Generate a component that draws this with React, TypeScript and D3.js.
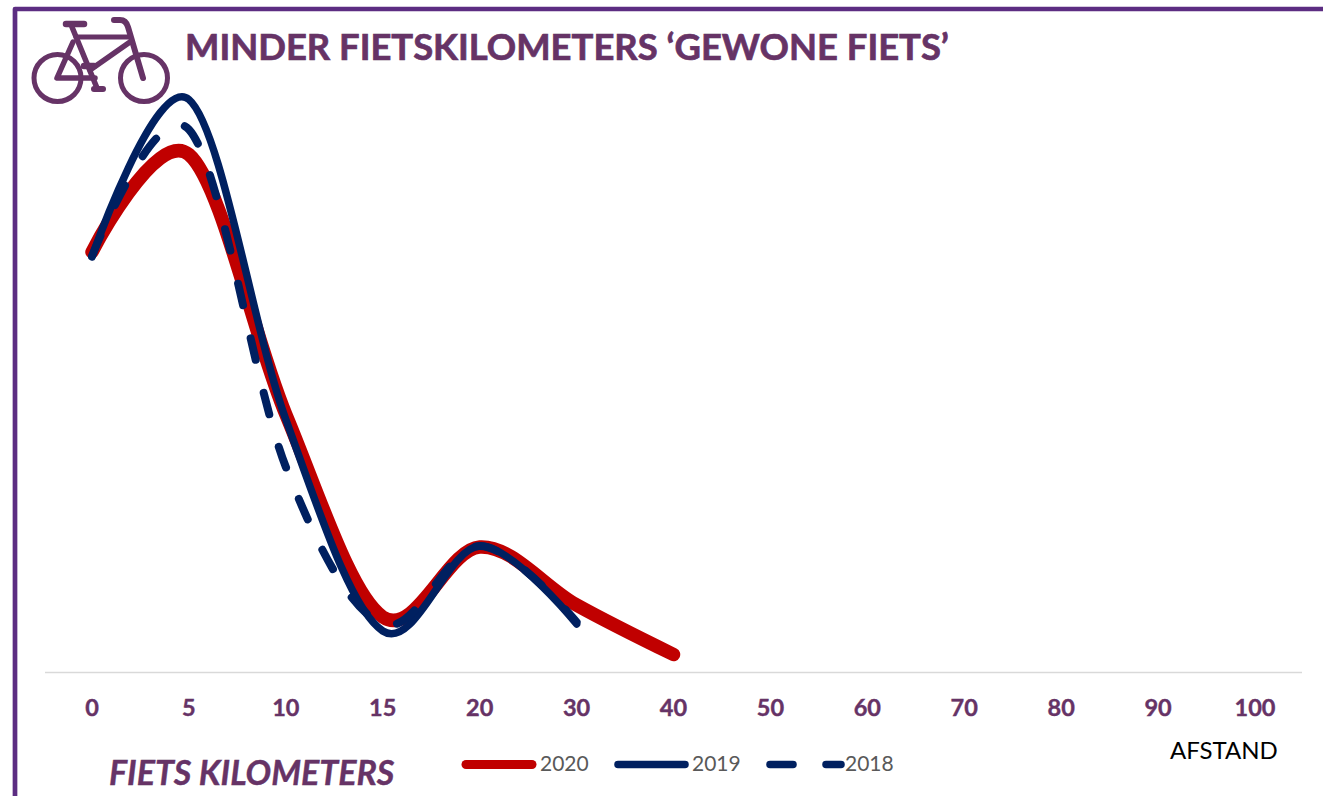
import React from "react";
import * as d3 from "d3";

const categories = ["0","5","10","15","20","30","40","50","60","70","80","90","100"];
const values2020 = [84, 103.5, 51.5, 11, 25, 13.4, 3.5];
const values2019 = [83, 114.5, 50.5, 8.2, 25.2, 9.6];
const values2018 = [83.2, 108.5, 41, 9.6, 25.2, 10];
const legendLabels = ["2020", "2019", "2018"];

const W = 1323, H = 796;
const PURPLE = "#5c2d82";
const TEXT = "#663366";
const RED = "#c00000";
const NAVY = "#002060";
const FONT = "Lato, Carlito, sans-serif";

const x = d3.scalePoint<string>().domain(categories).range([92, 1255]);
const y = d3.scaleLinear().domain([0, 100]).range([672, 172]);
const line = d3.line<number>()
  .x((_, i) => x(categories[i]) as number)
  .y(d => y(d))
  .curve(d3.curveCatmullRom.alpha(0));

function Bike() {
  const s = { fill: "none", stroke: "#663366", strokeLinecap: "round" as const, strokeLinejoin: "round" as const };
  return (
    <g {...s}>
      <circle cx={57.5} cy={78} r={23.5} strokeWidth={5} />
      <circle cx={144} cy={78} r={23.5} strokeWidth={5} />
      <path d="M66 24H84" strokeWidth={6.5} />
      <path d="M72 27L97 88" strokeWidth={5.5} />
      <path d="M76 37H128" strokeWidth={5} />
      <path d="M114 20H120Q126 20 128 27L143 78" strokeWidth={6} />
      <path d="M130 42L90 70" strokeWidth={5.5} />
      <path d="M73 42L57 78H95" strokeWidth={5.5} />
      <path d="M84 66H94" strokeWidth={6.5} />
      <path d="M94 89H103" strokeWidth={6} />
    </g>
  );
}

export default function App() {
  const lx = [540, 692, 845];
  return (
    <svg width={W} height={H} style={{ position: "fixed", left: 0, top: 0, display: "block", background: "#fff" }} fontFamily={FONT}>
      <path d="M15 796V9H1323" fill="none" stroke={PURPLE} strokeWidth={4.7} strokeLinejoin="round" />
      <Bike />
      <text x={185} y={60} fontSize={36.4} fontWeight={700} fill={TEXT} stroke={TEXT} strokeWidth={0.7}>MINDER FIETSKILOMETERS ‘GEWONE FIETS’</text>

      <line x1={45} x2={1302} y1={672.5} y2={672.5} stroke="#d9d9d9" strokeWidth={1.5} />
      {categories.map(c => (
        <text key={c} x={x(c)} y={716} textAnchor="middle" fontSize={23.5} fontWeight={700} fill={TEXT} stroke={TEXT} strokeWidth={0.4}>{c}</text>
      ))}

      <path d={line(values2020) as string} fill="none" stroke={RED} strokeWidth={13.5} strokeLinecap="round" />
      <path d={line(values2019) as string} fill="none" stroke={NAVY} strokeWidth={7.5} strokeLinecap="round" />
      <path d={line(values2018) as string} fill="none" stroke={NAVY} strokeWidth={8} strokeLinecap="round" strokeDasharray="22 34" />

      <text x={1170} y={759} fontSize={24} fill="#000">AFSTAND</text>
      <text x={109} y={785} fontSize={34} fontWeight={700} fontStyle="italic" fill={TEXT} stroke={TEXT} strokeWidth={0.4}>FIETS KILOMETERS</text>

      <line x1={466} x2={532} y1={764.5} y2={764.5} stroke={RED} strokeWidth={9} strokeLinecap="round" />
      <line x1={618} x2={685} y1={764.5} y2={764.5} stroke={NAVY} strokeWidth={7.5} strokeLinecap="round" />
      <line x1={770} x2={793} y1={764.5} y2={764.5} stroke={NAVY} strokeWidth={7.5} strokeLinecap="round" />
      <line x1={826} x2={841} y1={764.5} y2={764.5} stroke={NAVY} strokeWidth={7.5} strokeLinecap="round" />
      {legendLabels.map((t, i) => (
        <text key={t} x={lx[i]} y={771} fontSize={21} fill="#595959">{t}</text>
      ))}
    </svg>
  );
}
